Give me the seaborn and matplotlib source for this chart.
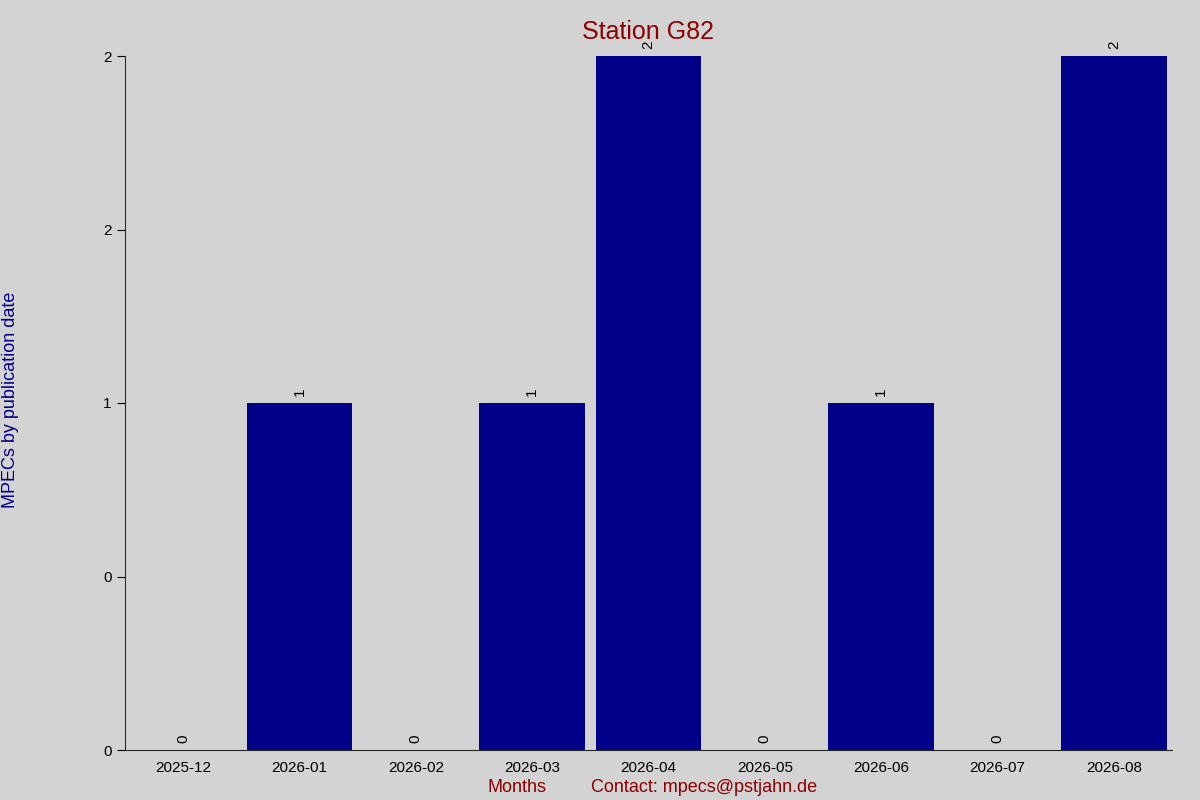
import numpy as np
import matplotlib
matplotlib.use("Agg")
import matplotlib.pyplot as plt
import seaborn as sns
from matplotlib.ticker import FuncFormatter

months = ["2025-12", "2026-01", "2026-02", "2026-03", "2026-04",
          "2026-05", "2026-06", "2026-07", "2026-08"]
counts = [0, 1, 0, 1, 2, 0, 1, 0, 2]

sns.set_style("ticks")
plt.rcParams['font.family'] = ['Liberation Sans', 'DejaVu Sans']

bg = "#d3d3d3"
fig = plt.figure(figsize=(12, 8), dpi=100, facecolor=bg)
ax = fig.add_axes([125/1200, 50/800, 1047/1200, 694/800])
ax.set_facecolor(bg)

sns.barplot(x=months, y=counts, color="#000088", saturation=1,
            width=0.91, linewidth=0, edgecolor="none", ax=ax)

for i, v in enumerate(counts):
    ax.text(i, v + 0.02, str(v), rotation=90, ha="center", va="bottom",
            fontsize=11, color="black")

ax.set_ylim(0, 2)
ax.set_yticks([0, 0.5, 1, 1.5, 2])
ax.yaxis.set_major_formatter(FuncFormatter(lambda v, p: str(round(v))))
ax.tick_params(axis="both", labelsize=11, colors="black", length=6)
ax.tick_params(axis="x", length=0, pad=8)
for s in ["top", "right"]:
    ax.spines[s].set_visible(False)

fig.text(0.54, 0.975, "Station G82", color="#8b0000", fontsize=18,
         ha="center", va="top")
ax.set_xlabel("")
fig.text(11/1200, 0.5, "MPECs by publication date", color="#000088",
         fontsize=13, rotation=90, ha="center", va="center")
fig.text(517/1200, 8/800, "Months", color="#8b0000", fontsize=13, ha="center")
fig.text(704/1200, 8/800, "Contact: mpecs@pstjahn.de", color="#8b0000", fontsize=13, ha="center")

fig.savefig("out.png", dpi=100, facecolor=bg)
